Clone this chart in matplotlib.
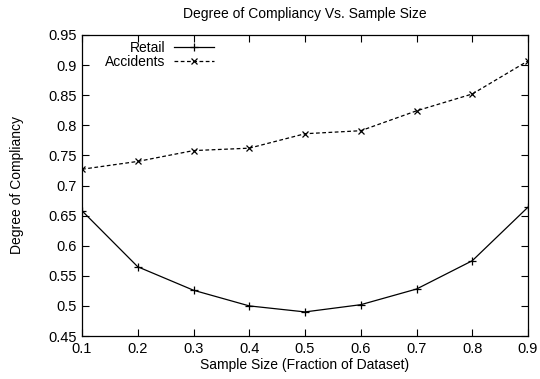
import numpy as np
import matplotlib.pyplot as plt

plt.rcParams['font.family'] = ['Liberation Sans', 'DejaVu Sans']

x = [0.1, 0.2, 0.3, 0.4, 0.5, 0.6, 0.7, 0.8, 0.9]
retail = [0.658, 0.565, 0.526, 0.500, 0.490, 0.502, 0.528, 0.575, 0.664]
accidents = [0.727, 0.740, 0.758, 0.762, 0.786, 0.791, 0.824, 0.852, 0.907]
yticks = [0.45, 0.5, 0.55, 0.6, 0.65, 0.7, 0.75, 0.8, 0.85, 0.9, 0.95]
ytick_labels = ['0.45', '0.5', '0.55', '0.6', '0.65', '0.7', '0.75', '0.8', '0.85', '0.9', '0.95']

fig = plt.figure(figsize=(5.4, 3.79), dpi=100)
ax = fig.add_axes([82 / 540, 1 - 336 / 379, 446 / 540, 301 / 379])

ax.plot(x, retail, color='black', lw=0.9, marker='+', ms=6, mew=0.9, label='Retail')
ax.plot(x, accidents, color='black', lw=0.9, ls=(0, (3, 2)), marker='x', ms=4.5, mew=0.9,
        label='Accidents')

ax.set_xlim(0.1, 0.9)
ax.set_ylim(0.45, 0.95)
ax.set_xticks(x)
ax.set_xticklabels([str(v) for v in x])
ax.set_yticks(yticks)
ax.set_yticklabels(ytick_labels)
ax.tick_params(direction='in', top=True, right=True, labelsize=10.5, length=5, width=0.8, pad=4)
for s in ax.spines.values():
    s.set_linewidth(0.9)

ax.set_title('Degree of Compliancy Vs. Sample Size', fontsize=10, pad=12)
ax.set_xlabel('Sample Size (Fraction of Dataset)', fontsize=10, labelpad=2)
ax.set_ylabel('Degree of Compliancy', fontsize=10, labelpad=17)

ax.legend(loc='upper left', frameon=False, markerfirst=False, fontsize=10,
          handlelength=2.9, borderpad=0.2, labelspacing=0.0, borderaxespad=0.2,
          handletextpad=0.6, bbox_to_anchor=(0.04, 1.0))

fig.savefig('out.png', dpi=100)
